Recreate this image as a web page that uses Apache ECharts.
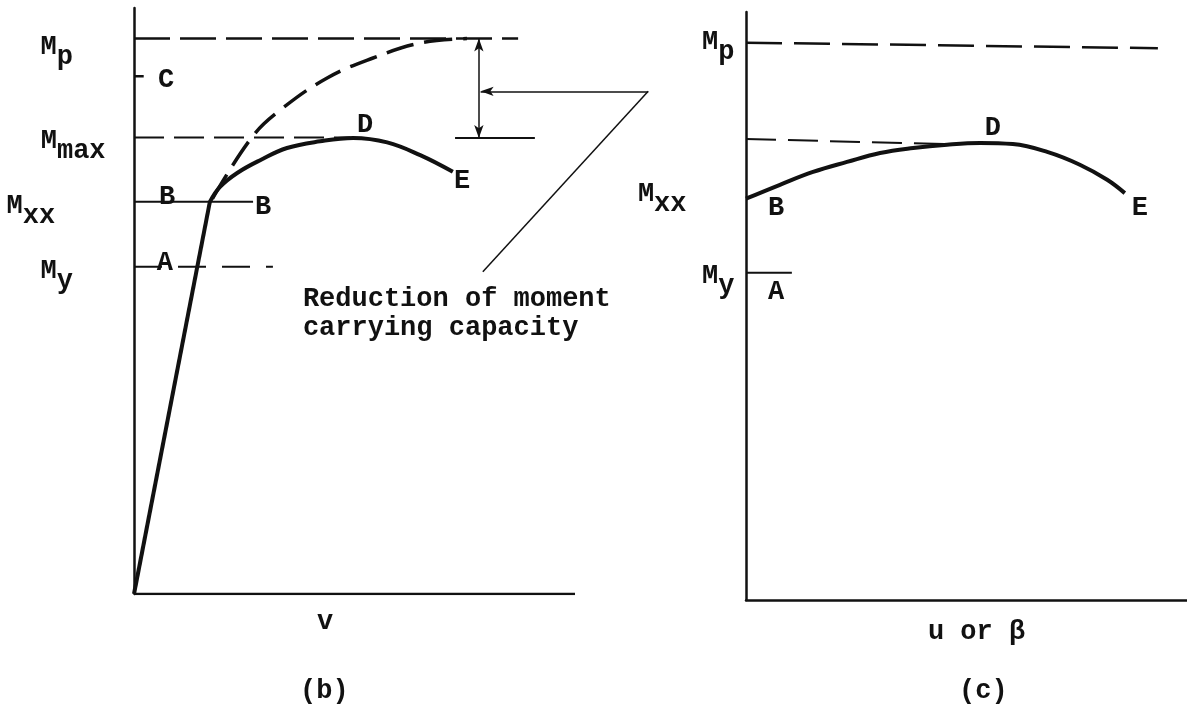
<!DOCTYPE html>
<html>
<head>
<meta charset="utf-8">
<title>Moment capacity diagrams</title>
<script src="https://cdn.jsdelivr.net/npm/echarts@6/dist/echarts.min.js"></script>
<style>
  html, body { margin: 0; padding: 0; background: #fff; }
  #chart { width: 1187px; height: 717px; }
</style>
</head>
<body>
<div id="chart"></div>
<script>
// Moment levels, as fractions of the plastic moment Mp
const MP = 1.0;
const MMAX = 0.822;
const MXX_B = 0.706;
const MY = 0.589;
const MC = 0.932;

// (b) moment vs. lateral deflection v
const baseAxisB = [[0, 0], [10, 0]];
const elasticB = [[0, 0], [1.72, 0.706]];
const bucklingB = [[1.72, 0.706], [1.95, 0.733], [2.34, 0.758], [2.86, 0.781], [3.47, 0.803],
                   [4.22, 0.815], [4.97, 0.821], [5.74, 0.813], [6.49, 0.790], [7.23, 0.760]];
const plasticB = [[1.78, 0.712], [2.68, 0.823], [3.31, 0.871], [4.38, 0.929],
                  [5.42, 0.965], [6.49, 0.992], [7.55, 1.0]];
const mpLineB = [[0, MP], [8.71, MP]];
const mmaxLineB = [[0, MMAX], [4.9, MMAX]];
const mmaxRefB = [[7.28, 0.821], [9.09, 0.821]];
const mxxLineB = [[0, MXX_B], [2.70, MXX_B]];
const myLineB = [[0, MY], [3.15, MY]];
const cTickB = [[0, MC], [0.22, MC]];
const leaderB = [[11.66, 0.905], [7.91, 0.580]];
const gapArrowB = [[7.82, 0.821], [7.82, 1.0]];
const pointerB = [[11.66, 0.905], [7.86, 0.905]];

// (c) moment vs. twist u or beta
const curveC = [[0, 0.720], [0.77, 0.745], [1.52, 0.768], [2.29, 0.786], [3.04, 0.802],
                [3.79, 0.811], [4.56, 0.817], [5.31, 0.820], [6.05, 0.818], [6.83, 0.804],
                [7.57, 0.781], [8.19, 0.754], [8.59, 0.730]];
const mpLineC = [[0, 1.0], [9.34, 0.99]];
const mmaxLineC = [[0, 0.827], [4.6, 0.818]];
const myLineC = [[0, 0.587], [1.04, 0.587]];

// Text annotations: [main, subscript, x, y]
const labelsB = [
  ['M', 'p', -1.75, 0.976],
  ['C', '', 0.73, 0.925],
  ['M', 'max', -1.38, 0.806],
  ['M', 'xx', -2.34, 0.689],
  ['M', 'y', -1.75, 0.572],
  ['B', '', 0.75, 0.715],
  ['B', '', 2.93, 0.697],
  ['A', '', 0.70, 0.596],
  ['D', '', 5.24, 0.844],
  ['E', '', 7.44, 0.743]
];
const labelsC = [
  ['M', 'p', -0.63, 0.992],
  ['M', 'xx', -1.90, 0.720],
  ['M', 'y', -0.63, 0.572],
  ['D', '', 5.60, 0.847],
  ['B', '', 0.68, 0.703],
  ['E', '', 8.93, 0.703],
  ['A', '', 0.68, 0.553]
];
const noteLines = ['Reduction of moment', 'carrying capacity'];
const noteAt = [3.83, 0.504];

const INK = '#111';
const FONT = '"Liberation Mono", "DejaVu Sans Mono", monospace';
const FS = 27;
const SUB = 10;

const textBase = { fontFamily: FONT, fontWeight: 'bold', fontSize: FS, color: INK };
const rich = {
  m: Object.assign({}, textBase, { padding: [0, 0, SUB, 0] }),
  s: Object.assign({}, textBase, { padding: [SUB, 0, 0, 0] }),
  t: Object.assign({}, textBase, { lineHeight: 29 })
};

function labelData(list) {
  return list.map(([main, sub, x, y]) => ({
    value: [x, y],
    text: sub ? '{m|' + main + '}{s|' + sub + '}' : '{t|' + main + '}'
  }));
}

function lineSeries(grid, data, width, dash, extra) {
  return Object.assign({
    type: 'line',
    xAxisIndex: grid,
    yAxisIndex: grid,
    data: data,
    symbol: 'none',
    silent: true,
    lineStyle: { color: INK, width: width, type: dash || 'solid', cap: 'butt' },
    z: 3
  }, extra || {});
}

function textSeries(grid, data) {
  return {
    type: 'scatter',
    xAxisIndex: grid,
    yAxisIndex: grid,
    symbolSize: 0,
    clip: false,
    silent: true,
    itemStyle: { color: INK, opacity: 1 },
    data: data,
    label: Object.assign({}, textBase, {
      show: true,
      position: 'inside',
      opacity: 1,
      textBorderWidth: 0,
      formatter: p => p.data.text,
      rich: rich
    }),
    z: 5
  };
}

function axisX(grid, max, showLine, name, padding, gap) {
  return {
    gridIndex: grid,
    type: 'value',
    min: 0,
    max: max,
    axisLine: { show: showLine, lineStyle: { color: INK, width: 2.5 } },
    axisTick: { show: false },
    axisLabel: { show: false },
    splitLine: { show: false },
    name: name,
    nameLocation: 'middle',
    nameGap: gap,
    nameTextStyle: Object.assign({}, textBase, { padding: padding })
  };
}

function axisY(grid) {
  return {
    gridIndex: grid,
    type: 'value',
    min: 0,
    max: 1.055,
    axisLine: { show: true, lineStyle: { color: INK, width: 2.5 } },
    axisTick: { show: false },
    axisLabel: { show: false },
    splitLine: { show: false }
  };
}

const noteData = [{
  value: noteAt,
  text: noteLines.map(s => '{t|' + s + '}').join('\n'),
  label: { position: 'right', distance: 0, align: 'left' }
}];

const chart = echarts.init(document.getElementById('chart'), null, { renderer: 'canvas' });
chart.setOption({
  animation: false,
  backgroundColor: '#fff',
  title: [
    { text: '(b)', left: 300, top: 678, padding: 0, textStyle: textBase },
    { text: '(c)', left: 959, top: 678, padding: 0, textStyle: textBase }
  ],
  grid: [
    // panel (b) reaches past its baseline to hold the leader annotation
    { left: 134, top: 8, width: 529.2, height: 586, outerBoundsMode: 'none' },
    { left: 746, top: 12, width: 441, height: 588, outerBoundsMode: 'none' }
  ],
  xAxis: [
    axisX(0, 12, false, 'v', [0, 147, 0, 0], 14.5),
    axisX(1, 10, true, 'u or β', [0, 0, 0, 20], 18.5)
  ],
  yAxis: [axisY(0), axisY(1)],
  series: [
    // (b)
    lineSeries(0, baseAxisB, 2.5),
    lineSeries(0, elasticB, 4),
    lineSeries(0, bucklingB, 4, 'solid', { smooth: 0.4 }),
    lineSeries(0, plasticB, 3.5, [28, 11], { smooth: 0.4 }),
    lineSeries(0, mpLineB, 2.5, [36, 10]),
    lineSeries(0, mmaxLineB, 2, [30, 10]),
    lineSeries(0, mmaxRefB, 2),
    lineSeries(0, mxxLineB, 2),
    lineSeries(0, myLineB, 2, [28, 16]),
    lineSeries(0, cTickB, 2.5),
    lineSeries(0, leaderB, 1.5, 'solid', {
      markLine: {
        silent: true,
        symbol: ['arrow', 'arrow'],
        symbolSize: [7, 13],
        label: { show: false },
        lineStyle: { color: INK, width: 1.5, type: 'solid' },
        data: [
          [{ coord: gapArrowB[0] }, { coord: gapArrowB[1] }],
          [{ coord: pointerB[0], symbol: 'none' }, { coord: pointerB[1], symbol: 'arrow' }]
        ]
      }
    }),
    textSeries(0, labelData(labelsB).concat(noteData)),
    // (c)
    lineSeries(1, curveC, 4, 'solid', { smooth: 0.4 }),
    lineSeries(1, mpLineC, 2.5, [36, 12]),
    lineSeries(1, mmaxLineC, 2, [30, 12]),
    lineSeries(1, myLineC, 2),
    textSeries(1, labelData(labelsC))
  ]
});
</script>
</body>
</html>
